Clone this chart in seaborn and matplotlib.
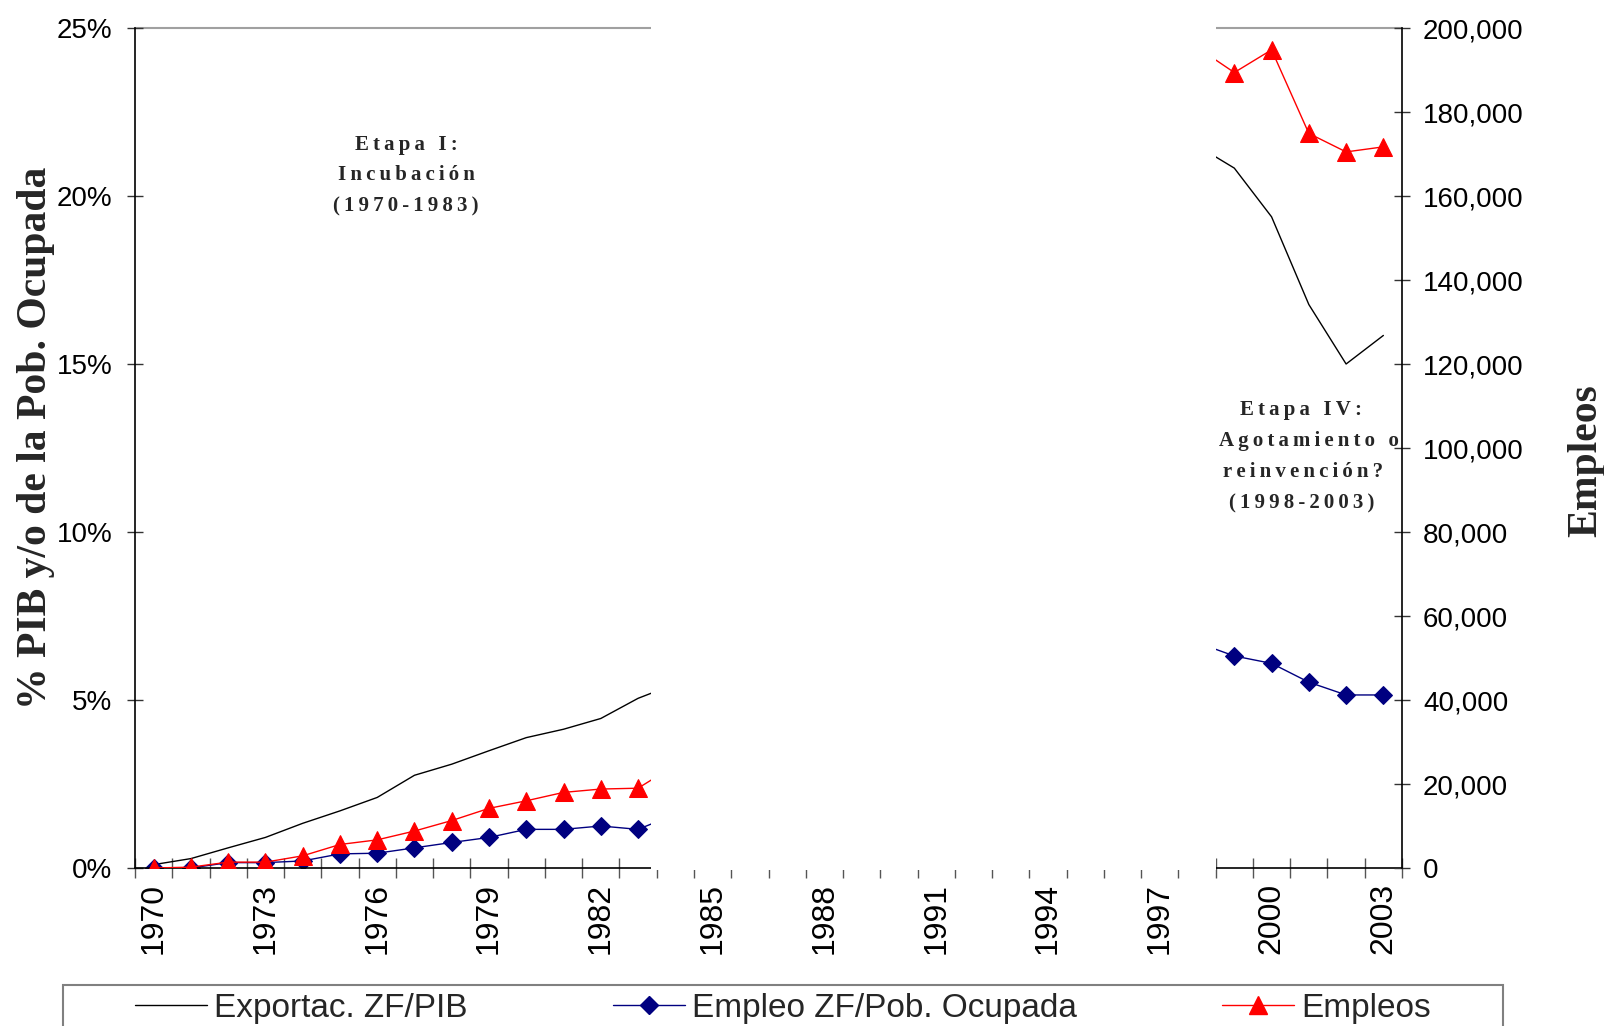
import numpy as np
import pandas as pd
import matplotlib
matplotlib.use("Agg")
import matplotlib.pyplot as plt
import seaborn as sns
from matplotlib.lines import Line2D
from matplotlib.patches import Rectangle
from matplotlib.ticker import FixedLocator, FuncFormatter, NullFormatter

# ---------------- data ----------------
years = list(range(1970, 2004))
NA = np.nan
# Exportaciones ZF / PIB (%)
export_pib = [0.1, 0.28, 0.6, 0.91, 1.33, 1.7, 2.1, 2.76, 3.09, 3.49, 3.88, 4.13, 4.45, 5.05, 5.48] \
    + [NA] * 13 + [21.5, 20.83, 19.38, 16.77, 15.0, 15.85]
# Empleo ZF / Poblacion ocupada (%)
empleo_pob = [0.0, 0.0, 0.16, 0.16, 0.21, 0.42, 0.44, 0.6, 0.76, 0.91, 1.15, 1.15, 1.25, 1.15, 1.6] \
    + [NA] * 13 + [6.71, 6.31, 6.09, 5.53, 5.15, 5.15]
# Empleos (numero)
empleos = [0, 200, 1400, 1400, 2900, 5600, 6700, 8800, 11300, 14200, 16000, 18000, 18800, 19000, 24500] \
    + [NA] * 13 + [195400, 189400, 194800, 174900, 170500, 171700]

series_labels = ["Exportac. ZF/PIB", "Empleo ZF/Pob. Ocupada", "Empleos"]
year_labels = list(range(1970, 2004, 3))
pct_ticks = [0, 5, 10, 15, 20, 25]
emp_ticks = list(range(0, 200001, 20000))
hidden_span = (1983.35, 1998.5)
stage1_lines = ["Etapa I:", "Incubación", "(1970-1983)"]
stage4_lines = ["Etapa IV:", "Agotamiento o", "reinvención?", "(1998-2003)"]

# ---------------- style ----------------
sns.set_theme(style="white")
plt.rcParams['font.family'] = ['Liberation Sans', 'DejaVu Sans']
SERIF = ['Liberation Serif', 'DejaVu Serif']

W, H = 1604, 1026
fig = plt.figure(figsize=(W / 100, H / 100), dpi=100)
fig.patch.set_facecolor('white')
ax = fig.add_axes([135 / W, (H - 868) / H, 1267 / W, 840 / H])
ax2 = ax.twinx()
ax.set_facecolor('white')

D_MS = 9.5
T_MS = 12.5

df = pd.DataFrame({'year': years, 'export': export_pib, 'empleo': empleo_pob, 'empleos': empleos})
segments = [df[df.year <= 1984], df[df.year >= 1998]]
for seg in segments:
    sns.lineplot(data=seg, x='year', y='export', ax=ax, color='black', linewidth=1.0,
                 estimator=None, legend=False)
    sns.lineplot(data=seg, x='year', y='empleo', ax=ax, color='#000080', linewidth=1.0,
                 marker='D', markersize=D_MS, markeredgecolor='#000080', markerfacecolor='#000080',
                 estimator=None, legend=False)
    sns.lineplot(data=seg, x='year', y='empleos', ax=ax2, color='#FF0000', linewidth=1.0,
                 marker='^', markersize=T_MS, markeredgecolor='#FF0000', markerfacecolor='#FF0000',
                 estimator=None, legend=False)

ax.set_xlim(1969.5, 2003.5)
ax.set_ylim(0, 25)
ax2.set_ylim(0, 200000)
for a in (ax, ax2):
    a.set_xlabel('')
    a.set_ylabel('')

# spines
for s in ('top', 'right'):
    ax.spines[s].set_visible(False)
for s in ('top', 'left', 'bottom'):
    ax2.spines[s].set_visible(False)
for sp in (ax.spines['left'], ax.spines['bottom'], ax2.spines['right']):
    sp.set_color('black')
    sp.set_linewidth(1.2)

# top grey line
ax.axhline(25, color='#A0A0A0', lw=1.5, zorder=0.5, clip_on=False)

# x ticks
ax.xaxis.set_major_locator(FixedLocator(np.arange(1969.5, 2004.0, 1.0)))
ax.xaxis.set_major_formatter(NullFormatter())
ax.xaxis.set_minor_locator(FixedLocator(year_labels))
ax.xaxis.set_minor_formatter(FuncFormatter(lambda v, p: f"{int(round(v))}"))
ax.tick_params(axis='x', which='major', direction='inout', length=15, width=1,
               color='#555555', bottom=True)
ax.tick_params(axis='x', which='minor', direction='inout', length=0, pad=11, labelsize=23,
               labelrotation=90, bottom=True, labelcolor='black')

# y ticks
ax.yaxis.set_major_locator(FixedLocator(pct_ticks))
ax.yaxis.set_major_formatter(FuncFormatter(lambda v, p: f"{int(v)}%"))
ax.tick_params(axis='y', direction='inout', length=11, width=1, color='#333333',
               labelsize=20, pad=10.7, left=True, labelcolor='black')
ax2.yaxis.set_major_locator(FixedLocator(emp_ticks))
ax2.yaxis.set_major_formatter(FuncFormatter(lambda v, p: f"{int(v):,}"))
ax2.tick_params(axis='y', direction='inout', length=11, width=1, color='#333333',
                labelsize=20, pad=9.7, right=True, labelcolor='black')

# white mask over the hidden period
ax2.add_patch(Rectangle((hidden_span[0], -0.0025), hidden_span[1] - hidden_span[0], 1.06,
                        transform=ax2.get_xaxis_transform(), facecolor='white',
                        edgecolor='none', zorder=10, clip_on=False))

# axis titles
fig.text(36 / W, 1 - 438 / H, "% PIB y/o de la Pob. Ocupada", rotation=90, ha='center',
         va='center', family=SERIF, weight='bold', size=30)
fig.text(1586 / W, 1 - 461 / H, "Empleos", rotation=90, ha='center', va='center',
         family=SERIF, weight='bold', size=30)

# stage annotations (letter spaced)
def spaced(s):
    return '\u2009'.join(s)

for i, line in enumerate(stage1_lines):
    fig.text(406 / W, 1 - (145 + 30.5 * i) / H, spaced(line), ha='center', va='center',
             family=SERIF, weight='bold', size=15)
s4_x = [1301, 1309, 1303, 1302]
for i, line in enumerate(stage4_lines):
    fig.text(s4_x[i] / W, 1 - (410 + 31 * i) / H, spaced(line), ha='center', va='center',
             family=SERIF, weight='bold', size=15)

# legend
handles = [
    Line2D([], [], color='black', lw=1.0),
    Line2D([], [], color='#000080', lw=1.0, marker='D', markersize=D_MS),
    Line2D([], [], color='#FF0000', lw=1.0, marker='^', markersize=T_MS),
]
fig.legend(handles, series_labels, loc='center', bbox_to_anchor=(783 / W, 1 - 1008 / H),
           ncol=3, frameon=False, prop={'size': 24}, handlelength=2.16, handletextpad=0.21,
           columnspacing=4.35, borderpad=0, borderaxespad=0)
fig.add_artist(Rectangle((63.5 / W, -0.02), (1502.7 - 63.5) / W, 0.02 + 1 - 985 / H,
                         transform=fig.transFigure, facecolor='none', edgecolor='#808080',
                         lw=1.5, clip_on=False))

fig.savefig('out.png', dpi=100)
